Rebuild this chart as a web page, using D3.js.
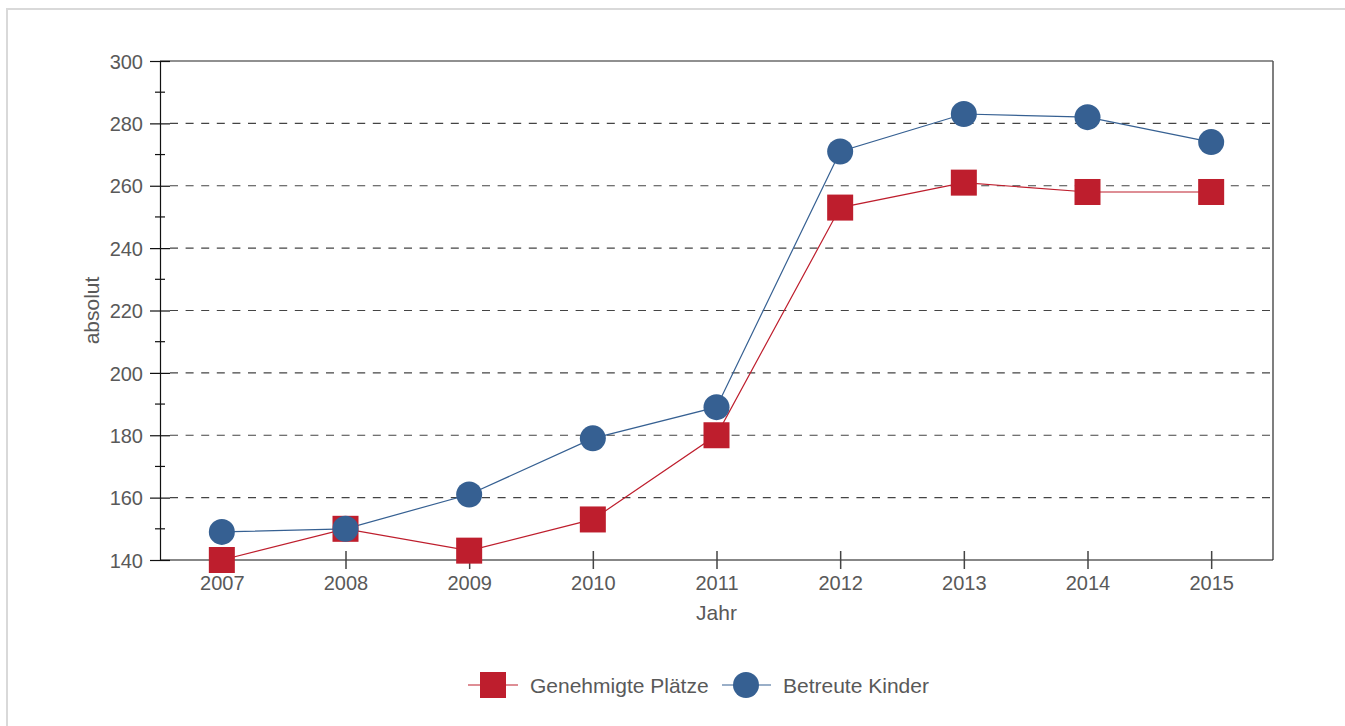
<!DOCTYPE html>
<html>
<head>
<meta charset="utf-8">
<script src="https://cdn.jsdelivr.net/npm/d3@7/dist/d3.min.js"></script>
<style>
  html, body { margin: 0; padding: 0; background: #fff; }
  svg { display: block; }
  text { font-family: "Liberation Sans", Arial, sans-serif; fill: #595959; }
</style>
</head>
<body>
<svg id="chart" width="1345" height="726"></svg>
<script>
const years = [2007, 2008, 2009, 2010, 2011, 2012, 2013, 2014, 2015];
const genehmigtePlaetze = [140, 150, 143, 153, 180, 253, 261, 258, 258];
const betreuteKinder = [149, 150, 161, 179, 189, 271, 283, 282, 274];
const yTicks = [140, 160, 180, 200, 220, 240, 260, 280, 300];
const yMinorTicks = [150, 170, 190, 210, 230, 250, 270, 290];
const seriesNames = ["Genehmigte Plätze", "Betreute Kinder"];
const seriesColors = ["#BE1E2D", "#366092"];

const svg = d3.select("#chart");
const margin = { left: 160, top: 61, right: 1273, bottom: 560 };

// outer frame
svg.append("rect")
  .attr("x", 7).attr("y", 9).attr("width", 1400).attr("height", 800)
  .attr("fill", "none").attr("stroke", "#d9d9d9").attr("stroke-width", 2);

const x = d3.scalePoint().domain(years).range([margin.left, margin.right]).padding(0.5);
const y = d3.scaleLinear().domain([140, 300]).range([margin.bottom, margin.top]);

// dashed grid
svg.append("g").selectAll("line")
  .data(yTicks.filter(v => v > 140 && v < 300))
  .join("line")
  .attr("x1", margin.left + 10).attr("x2", margin.right)
  .attr("y1", d => y(d)).attr("y2", d => y(d))
  .attr("stroke", "#444").attr("stroke-width", 1.2)
  .attr("stroke-dasharray", "8,7.6");

// top and right frame
svg.append("line").attr("x1", margin.left).attr("x2", margin.right)
  .attr("y1", margin.top).attr("y2", margin.top).attr("stroke", "#222").attr("stroke-width", 1.2);
svg.append("line").attr("x1", margin.right).attr("x2", margin.right)
  .attr("y1", margin.top).attr("y2", margin.bottom).attr("stroke", "#555").attr("stroke-width", 1.5);

// y axis
const yAxis = svg.append("g").attr("transform", `translate(${margin.left},0)`)
  .call(d3.axisLeft(y).tickValues(yTicks).tickSize(10).tickPadding(7).tickFormat(d3.format("d")));
yAxis.select(".domain").attr("stroke", "#111").attr("stroke-width", 1.2);
yAxis.selectAll(".tick line").attr("x2", -10).attr("x1", 10).attr("stroke", "#111").attr("stroke-width", 1.2);
yAxis.selectAll(".tick text").attr("font-size", 20).attr("fill", "#595959")
  .attr("font-family", "Liberation Sans, Arial, sans-serif").attr("dy", "0.36em");
svg.append("g").selectAll("line").data(yMinorTicks).join("line")
  .attr("x1", margin.left - 5).attr("x2", margin.left + 5)
  .attr("y1", d => y(d)).attr("y2", d => y(d))
  .attr("stroke", "#111").attr("stroke-width", 1.2);

// x axis
const xAxis = svg.append("g").attr("transform", `translate(0,${margin.bottom})`)
  .call(d3.axisBottom(x).tickSize(9).tickPadding(8));
xAxis.select(".domain").attr("stroke", "#111").attr("stroke-width", 1.2)
  .attr("d", `M${margin.left},0H${margin.right}`);
xAxis.selectAll(".tick line").attr("y1", -9).attr("y2", 9).attr("stroke", "#444").attr("stroke-width", 1.5);
xAxis.selectAll(".tick text").attr("font-size", 20).attr("fill", "#595959")
  .attr("font-family", "Liberation Sans, Arial, sans-serif").attr("y", 16).attr("dy", "0.71em");

// axis titles
svg.append("text").attr("x", (margin.left + margin.right) / 2 + 0).attr("y", 620)
  .attr("text-anchor", "middle").attr("font-size", 21).text("Jahr")
  .attr("transform", null).attr("x", x(2011));
svg.append("text")
  .attr("transform", `translate(99,${(margin.top + margin.bottom) / 2}) rotate(-90)`)
  .attr("text-anchor", "middle").attr("font-size", 21).text("absolut");

// lines
const line = d3.line().x((d, i) => x(years[i])).y(d => y(d));
const allSeries = [genehmigtePlaetze, betreuteKinder];
allSeries.forEach((s, k) => {
  svg.append("path").datum(s).attr("d", line)
    .attr("fill", "none").attr("stroke", seriesColors[k]).attr("stroke-width", 1.2);
});
// markers
const sq = 26, r = 13;
svg.append("g").selectAll("rect").data(genehmigtePlaetze).join("rect")
  .attr("x", (d, i) => x(years[i]) - sq / 2).attr("y", d => y(d) - sq / 2)
  .attr("width", sq).attr("height", sq).attr("fill", seriesColors[0]);
svg.append("g").selectAll("circle").data(betreuteKinder).join("circle")
  .attr("cx", (d, i) => x(years[i])).attr("cy", d => y(d)).attr("r", r)
  .attr("fill", seriesColors[1]);

// legend
const ly = 685;
const lg = svg.append("g");
lg.append("line").attr("x1", 468).attr("x2", 518).attr("y1", ly).attr("y2", ly)
  .attr("stroke", seriesColors[0]).attr("stroke-width", 1.2);
lg.append("rect").attr("x", 493 - sq / 2).attr("y", ly - sq / 2).attr("width", sq).attr("height", sq)
  .attr("fill", seriesColors[0]);
lg.append("text").attr("x", 530).attr("y", ly).attr("dy", "0.36em").attr("font-size", 21).text(seriesNames[0]);
lg.append("line").attr("x1", 722).attr("x2", 771).attr("y1", ly).attr("y2", ly)
  .attr("stroke", seriesColors[1]).attr("stroke-width", 1.2);
lg.append("circle").attr("cx", 746).attr("cy", ly).attr("r", r).attr("fill", seriesColors[1]);
lg.append("text").attr("x", 783).attr("y", ly).attr("dy", "0.36em").attr("font-size", 21).text(seriesNames[1]);
</script>
</body>
</html>
